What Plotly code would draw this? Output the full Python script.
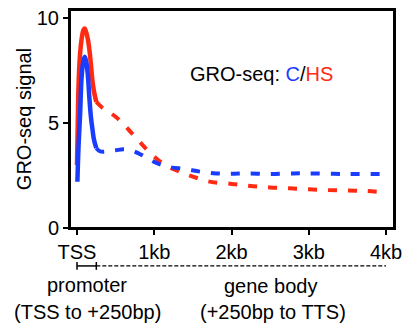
import plotly.graph_objects as go

# x positions in kb relative to TSS
red_solid_x = [0, 0.01, 0.02, 0.04, 0.06, 0.08, 0.10, 0.12, 0.14, 0.16, 0.18, 0.20, 0.22, 0.25]
red_solid_y = [3.0, 5.0, 6.8, 8.3, 9.0, 9.4, 9.5, 9.3, 9.0, 8.5, 7.8, 7.0, 6.5, 6.0]
blue_solid_x = [0.005, 0.02, 0.04, 0.06, 0.08, 0.10, 0.12, 0.14, 0.16, 0.18, 0.20, 0.22, 0.25]
blue_solid_y = [2.2, 3.9, 5.4, 7.2, 7.9, 8.15, 7.9, 7.3, 6.2, 5.3, 4.7, 4.2, 3.8]

red_dash_x = [0.25, 0.32, 0.4, 0.5, 0.6, 0.7, 0.8, 0.9, 1.0, 1.1, 1.2, 1.35, 1.5, 1.7, 2.0,
              2.25, 2.5, 2.75, 3.0, 3.25, 3.5, 3.75, 4.0]
red_dash_y = [6.0, 5.75, 5.55, 5.3, 4.95, 4.55, 4.15, 3.75, 3.4, 3.1, 2.88, 2.65, 2.45, 2.22, 2.1,
              2.0, 1.93, 1.89, 1.84, 1.81, 1.79, 1.76, 1.70]
blue_dash_x = [0.25, 0.3, 0.4, 0.5, 0.6, 0.7, 0.8, 0.9, 1.0, 1.1, 1.2, 1.4, 1.6, 1.8, 2.0,
               2.2, 2.5, 2.8, 3.0, 3.5, 4.0]
blue_dash_y = [3.8, 3.65, 3.65, 3.7, 3.75, 3.7, 3.55, 3.35, 3.15, 3.0, 2.9, 2.8, 2.68, 2.6, 2.58,
               2.6, 2.57, 2.6, 2.6, 2.57, 2.57]

tick_vals = [0, 1, 2, 3, 4]
tick_text = ["TSS", "1kb", "2kb", "3kb", "4kb"]
y_ticks = [0, 5, 10]

promoter_range = [0, 0.25]
genebody_range = [0.25, 4.0]

RED = "#FF2A12"
BLUE = "#1A3CFF"
FONT = "Liberation Sans, Arial, sans-serif"
FS = 20

fig = go.Figure()
fig.add_trace(go.Scatter(x=red_dash_x, y=red_dash_y, mode="lines",
                         line=dict(color=RED, width=4, dash="9px,11px", shape="spline")))
fig.add_trace(go.Scatter(x=blue_dash_x, y=blue_dash_y, mode="lines",
                         line=dict(color=BLUE, width=4, dash="9px,11px", shape="spline")))
fig.add_trace(go.Scatter(x=red_solid_x, y=red_solid_y, mode="lines",
                         line=dict(color=RED, width=4.5, shape="spline")))
fig.add_trace(go.Scatter(x=blue_solid_x, y=blue_solid_y, mode="lines",
                         line=dict(color=BLUE, width=4.5, shape="spline")))

fig.add_annotation(x=2.39, y=7.33, xref="x", yref="y", showarrow=False,
                   text='GRO-seq: <span style="color:%s">C</span>/<span style="color:%s">HS</span>' % (BLUE, RED),
                   font=dict(size=FS, color="black", family=FONT))

# plot frame
fig.add_shape(type="rect", xref="paper", yref="paper", x0=0, x1=1, y0=0, y1=1,
              line=dict(color="black", width=2), layer="above")

# region brackets below axis
by = -0.174
cap = 0.018
fig.add_shape(type="line", xref="x", yref="paper", x0=promoter_range[0], x1=promoter_range[1],
              y0=by, y1=by, line=dict(color="black", width=1.5))
for xv in promoter_range:
    fig.add_shape(type="line", xref="x", yref="paper", x0=xv, x1=xv, y0=by - cap, y1=by + cap,
                  line=dict(color="black", width=1.5))
fig.add_shape(type="line", xref="x", yref="paper", x0=genebody_range[0], x1=genebody_range[1],
              y0=by, y1=by, line=dict(color="black", width=1.2, dash="4px,2px"))

for txt, xv, yv in [("promoter", 0.13, -0.262), ("(TSS to +250bp)", 0.14, -0.385),
                    ("gene body", 2.5, -0.266), ("(+250bp to TTS)", 2.54, -0.385)]:
    fig.add_annotation(x=xv, y=yv, xref="x", yref="paper", showarrow=False, text=txt,
                       xanchor="center", yanchor="middle",
                       font=dict(size=FS, color="black", family=FONT))

fig.update_layout(
    width=402, height=323,
    margin=dict(l=70, r=8, t=10, b=95, autoexpand=False),
    paper_bgcolor="white", plot_bgcolor="white",
    showlegend=False,
    font=dict(family=FONT, size=FS, color="black"),
    xaxis=dict(range=[-0.0906, 4.1036], tickvals=tick_vals, ticktext=tick_text,
               showline=True, linecolor="black", linewidth=2, mirror=True,
               ticks="outside", ticklen=5, tickwidth=2, tickcolor="black",
               ticklabeloverflow="allow",
               showgrid=False, zeroline=False, tickfont=dict(size=FS)),
    yaxis=dict(range=[0, 10.38], tickvals=y_ticks,
               showline=True, linecolor="black", linewidth=2, mirror=True,
               ticks="outside", ticklen=5, tickwidth=2, tickcolor="black",
               showgrid=False, zeroline=False, tickfont=dict(size=FS),
               title=dict(text="GRO-seq signal", font=dict(size=FS), standoff=0)),
)

fig.write_html("out.html", config={"displayModeBar": False},
               post_script="document.body.style.margin='0px';")
